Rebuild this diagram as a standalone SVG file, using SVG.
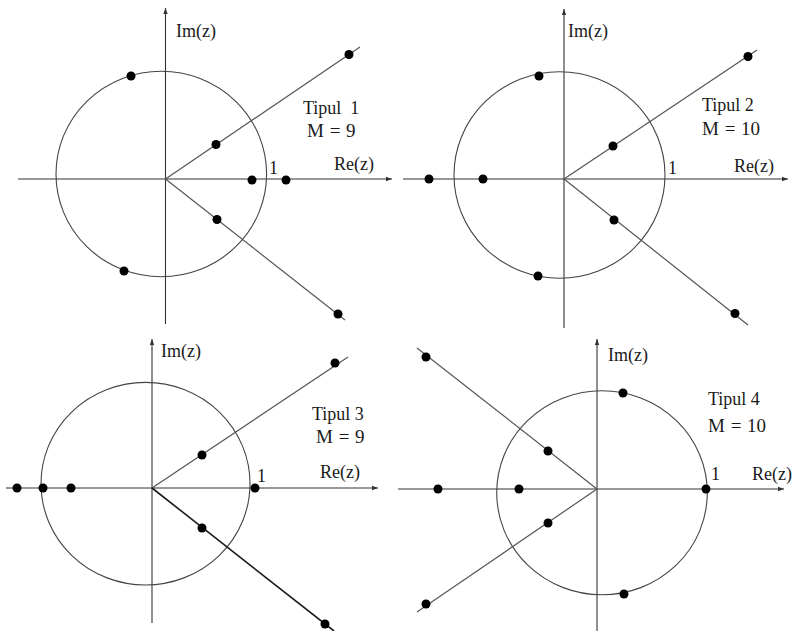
<svg xmlns="http://www.w3.org/2000/svg" width="795" height="631" viewBox="0 0 795 631">
<style>
.ax{stroke:#333;stroke-width:1.1;fill:none}
.ci{stroke:#444;stroke-width:1.1;fill:none}
.ray{stroke:#555;stroke-width:1.2;fill:none}
.dk{stroke:#1a1a1a;stroke-width:1.6;fill:none}
.dot{fill:#000}
text{font-family:"Liberation Serif","Times New Roman",serif;font-size:18px;fill:#1a1a1a}
.m{font-size:19px;word-spacing:1px}
</style>
<defs>
<marker id="arr" markerUnits="userSpaceOnUse" markerWidth="7" markerHeight="6" refX="6" refY="3" orient="auto">
<path d="M0,0.8 L6,3 L0,5.2 Z" fill="#333"/>
</marker>
</defs>
<rect width="795" height="631" fill="#fff"/>

<g id="panel1">
<g id="p1-connectors">
<line class="ax" x1="18" y1="179" x2="392" y2="179" marker-end="url(#arr)"/>
<line class="ax" x1="165.5" y1="324" x2="165.5" y2="8" marker-end="url(#arr)"/>
<ellipse class="ci" cx="161.3" cy="174" rx="105.3" ry="102.8"/>
<line class="ray" x1="165.5" y1="179" x2="360" y2="47"/>
<line class="ray" x1="165.5" y1="179" x2="345" y2="320"/>
</g>
<g id="p1-dots">
<circle class="dot" cx="131" cy="76" r="4.5"/>
<circle class="dot" cx="124" cy="271" r="4.5"/>
<circle class="dot" cx="216" cy="144.5" r="4.5"/>
<circle class="dot" cx="217" cy="219.5" r="4.5"/>
<circle class="dot" cx="349" cy="54.5" r="4.5"/>
<circle class="dot" cx="338" cy="314" r="4.5"/>
<circle class="dot" cx="252" cy="180" r="4.5"/>
<circle class="dot" cx="286" cy="180" r="4.5"/>
</g>
<text x="176" y="37">Im(z)</text>
<text x="303" y="114">Tipul&#160; 1</text>
<text class="m" x="307" y="137">M = 9</text>
<text x="269" y="174">1</text>
<text x="334" y="170">Re(z)</text>
</g>

<g id="panel2">
<g id="p2-connectors">
<line class="ax" x1="403" y1="179" x2="788" y2="179" marker-end="url(#arr)"/>
<line class="ax" x1="564" y1="328" x2="564" y2="9" marker-end="url(#arr)"/>
<ellipse class="ci" cx="559.5" cy="175" rx="105.5" ry="103.3"/>
<line class="ray" x1="564" y1="179" x2="757" y2="50"/>
<line class="ray" x1="564" y1="179" x2="748" y2="325"/>
</g>
<g id="p2-dots">
<circle class="dot" cx="539" cy="76" r="4.5"/>
<circle class="dot" cx="538" cy="276" r="4.5"/>
<circle class="dot" cx="613" cy="146" r="4.5"/>
<circle class="dot" cx="614" cy="220" r="4.5"/>
<circle class="dot" cx="748" cy="56.5" r="4.5"/>
<circle class="dot" cx="735" cy="313.5" r="4.5"/>
<circle class="dot" cx="429" cy="179" r="4.5"/>
<circle class="dot" cx="483" cy="179" r="4.5"/>
</g>
<text x="568" y="37">Im(z)</text>
<text x="702" y="111">Tipul 2</text>
<text class="m" x="702" y="135">M = 10</text>
<text x="668" y="174">1</text>
<text x="734" y="172">Re(z)</text>
</g>

<g id="panel3">
<g id="p3-connectors">
<line class="ax" x1="6" y1="488" x2="378" y2="488" marker-end="url(#arr)"/>
<line class="ax" x1="152" y1="623" x2="152" y2="339" marker-end="url(#arr)"/>
<ellipse class="ci" cx="145.5" cy="483.7" rx="104.5" ry="101.3"/>
<line class="ray" x1="152" y1="488" x2="348" y2="357"/>
<line class="dk" x1="152" y1="488" x2="334" y2="631"/>
</g>
<g id="p3-dots">
<circle class="dot" cx="202" cy="455" r="4.5"/>
<circle class="dot" cx="202" cy="528" r="4.5"/>
<circle class="dot" cx="335" cy="363" r="4.5"/>
<circle class="dot" cx="325" cy="624" r="4.5"/>
<circle class="dot" cx="17" cy="488" r="4.5"/>
<circle class="dot" cx="43" cy="488" r="4.5"/>
<circle class="dot" cx="71" cy="488" r="4.5"/>
<circle class="dot" cx="255" cy="488" r="4.5"/>
</g>
<text x="161" y="357">Im(z)</text>
<text x="312" y="420">Tipul 3</text>
<text class="m" x="316" y="443">M = 9</text>
<text x="257" y="482">1</text>
<text x="320" y="478">Re(z)</text>
</g>

<g id="panel4">
<g id="p4-connectors">
<line class="ax" x1="398" y1="489" x2="784" y2="489" marker-end="url(#arr)"/>
<line class="ax" x1="597" y1="631" x2="597" y2="339" marker-end="url(#arr)"/>
<ellipse class="ci" cx="602" cy="492.8" rx="105.3" ry="102"/>
<line class="ray" x1="597" y1="489" x2="417" y2="348"/>
<line class="ray" x1="597" y1="489" x2="417" y2="612"/>
</g>
<g id="p4-dots">
<circle class="dot" cx="426" cy="357" r="4.5"/>
<circle class="dot" cx="548" cy="451" r="4.5"/>
<circle class="dot" cx="548" cy="523" r="4.5"/>
<circle class="dot" cx="426" cy="604" r="4.5"/>
<circle class="dot" cx="438" cy="489" r="4.5"/>
<circle class="dot" cx="519" cy="489" r="4.5"/>
<circle class="dot" cx="706" cy="489" r="4.5"/>
<circle class="dot" cx="623" cy="393" r="4.5"/>
<circle class="dot" cx="624" cy="594" r="4.5"/>
</g>
<text x="608" y="361">Im(z)</text>
<text x="708" y="405">Tipul 4</text>
<text class="m" x="708" y="432">M = 10</text>
<text x="711" y="480">1</text>
<text x="752" y="480">Re(z)</text>
</g>
</svg>
